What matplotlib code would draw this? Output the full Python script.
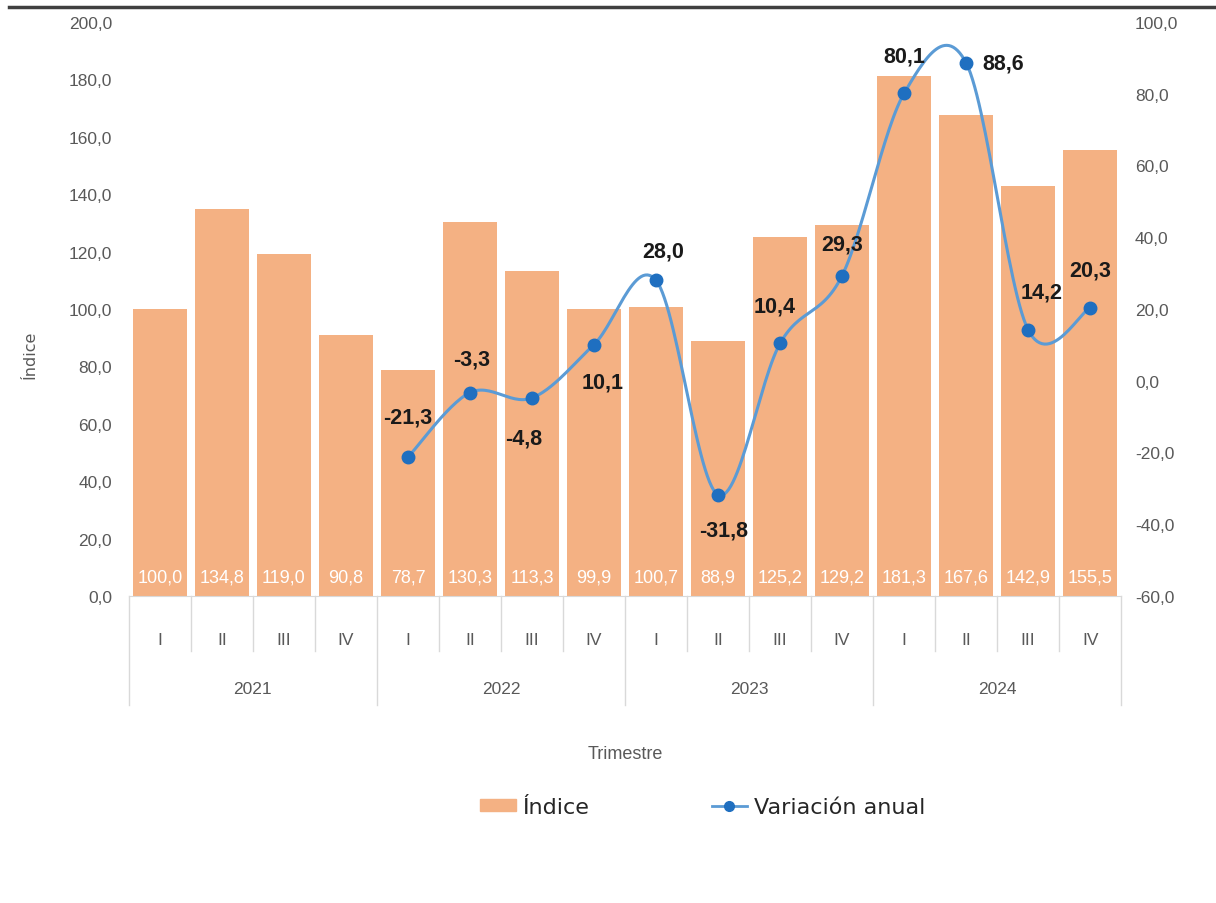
import numpy as np
import matplotlib.pyplot as plt
from matplotlib.patches import Patch
from matplotlib.lines import Line2D

# Data
years = ['2021', '2022', '2023', '2024']
quarters = ['I', 'II', 'III', 'IV']
indice = [100.0, 134.8, 119.0, 90.8, 78.7, 130.3, 113.3, 99.9,
          100.7, 88.9, 125.2, 129.2, 181.3, 167.6, 142.9, 155.5]
variacion = [-21.3, -3.3, -4.8, 10.1, 28.0, -31.8, 10.4, 29.3,
             80.1, 88.6, 14.2, 20.3]
var_start = 4  # variation starts at 2022-I

bar_color = '#F4B183'
line_color = '#5B9BD5'
marker_color = '#1F6FC0'
gray = '#595959'
narrow = ['Liberation Sans Narrow', 'Liberation Sans', 'DejaVu Sans']


def fmt(v):
    return f'{v:.1f}'.replace('.', ',')


def smooth(xs, ys, n=30):
    # Excel-style smoothed line (cubic Bezier, Catmull-Rom control points)
    pts = np.column_stack([xs, ys]).astype(float)
    out = []
    for i in range(len(pts) - 1):
        p0 = pts[max(i - 1, 0)]
        p1 = pts[i]
        p2 = pts[i + 1]
        p3 = pts[min(i + 2, len(pts) - 1)]
        c1 = p1 + (p2 - p0) / 6
        c2 = p2 - (p3 - p1) / 6
        t = np.linspace(0, 1, n)[:, None]
        seg = ((1 - t) ** 3) * p1 + 3 * ((1 - t) ** 2) * t * c1 + 3 * (1 - t) * t ** 2 * c2 + t ** 3 * p2
        out.append(seg if i == 0 else seg[1:])
    out = np.vstack(out)
    return out[:, 0], out[:, 1]


fig = plt.figure(figsize=(12.16, 9.04), dpi=100)
ax = fig.add_axes([0.106, 0.3396, 0.816, 0.635])
ax2 = ax.twinx()

x = np.arange(len(indice))
ax.bar(x, indice, width=0.87, color=bar_color, zorder=2)
ax.set_xlim(-0.5, len(indice) - 0.5)
ax.set_ylim(0, 200)
ax.set_yticks(np.arange(0, 201, 20))
ax.set_yticklabels([fmt(v) for v in np.arange(0, 201, 20)],
                   family=narrow, fontsize=12.5, color=gray)
ax.tick_params(axis='y', length=0, pad=12)
ax.set_xticks([])
for s in ['top', 'right', 'left']:
    ax.spines[s].set_visible(False)
ax.spines['bottom'].set_color('#D9D9D9')

for xi, v in zip(x, indice):
    ax.annotate(fmt(v), (xi, 0), xytext=(0, 14),
                textcoords='offset points', ha='center', va='center',
                color='white', fontsize=13, family=narrow)

# second axis: annual variation
xv = x[var_start:]
sx, sy = smooth(xv, variacion)
ax2.plot(sx, sy, color=line_color, lw=2.2, zorder=3)
ax2.plot(xv, variacion, 'o', color=marker_color, ms=9, zorder=4)
ax2.set_ylim(-60, 100)
ax2.set_yticks(np.arange(-60, 101, 20))
ax2.set_yticklabels([fmt(v) for v in np.arange(-60, 101, 20)],
                    family=narrow, fontsize=12.5, color=gray)
ax2.tick_params(axis='y', length=0, pad=10)
for s in ['top', 'right', 'left', 'bottom']:
    ax2.spines[s].set_visible(False)

label_offsets = [(0, 29), (1, 24), (-6, -29), (6, -27), (5, 21), (4, -25),
                 (-4, 27), (0, 23), (0, 27), (27, 0), (10, 27), (0, 27)]
for xi, v, off in zip(xv, variacion, label_offsets):
    ax2.annotate(fmt(v), (xi, v), xytext=off,
                 textcoords='offset points', ha='center', va='center',
                 fontsize=15.5, fontweight='bold', color='#1A1A1A', family=narrow)

# two-level category axis
trans = ax.get_xaxis_transform()
for i in range(len(indice) + 1):
    depth = -0.19 if i % 4 == 0 else -0.095
    ax.plot([i - 0.5, i - 0.5], [0, depth], transform=trans, color='#D9D9D9',
            lw=1, clip_on=False)
for i in range(len(indice)):
    ax.text(i, -0.075, quarters[i % 4], transform=trans, ha='center', va='center',
            fontsize=12.5, color=gray, family=narrow)
for j, yr in enumerate(years):
    ax.text(j * 4 + 1.5, -0.162, yr, transform=trans, ha='center', va='center',
            fontsize=12.5, color=gray, family=narrow)
ax.text(7.5, -0.275, 'Trimestre', transform=trans, ha='center', va='center',
        fontsize=13, color=gray, family=narrow)

fig.text(0.025, 0.607, 'Índice', rotation=90, ha='center', va='center',
         fontsize=11.5, color=gray)

# top rule
fig.add_artist(Line2D([0.007, 1.0], [0.991, 0.991], color='#404040', lw=2.5))

handles = [Patch(color=bar_color),
           Line2D([], [], color=line_color, lw=2, marker='o', ms=7,
                  markerfacecolor=marker_color, markeredgecolor=marker_color)]
leg = fig.legend(handles, ['Índice', 'Variación anual'], loc='center',
                 bbox_to_anchor=(0.578, 0.106), ncol=2, frameon=False,
                 prop={'family': 'DejaVu Sans', 'size': 16},
                 columnspacing=5.5, handlelength=1.6, handleheight=0.45,
                 handletextpad=0.3)
for t in leg.get_texts():
    t.set_color('#262626')

fig.savefig('out.png', dpi=100)
